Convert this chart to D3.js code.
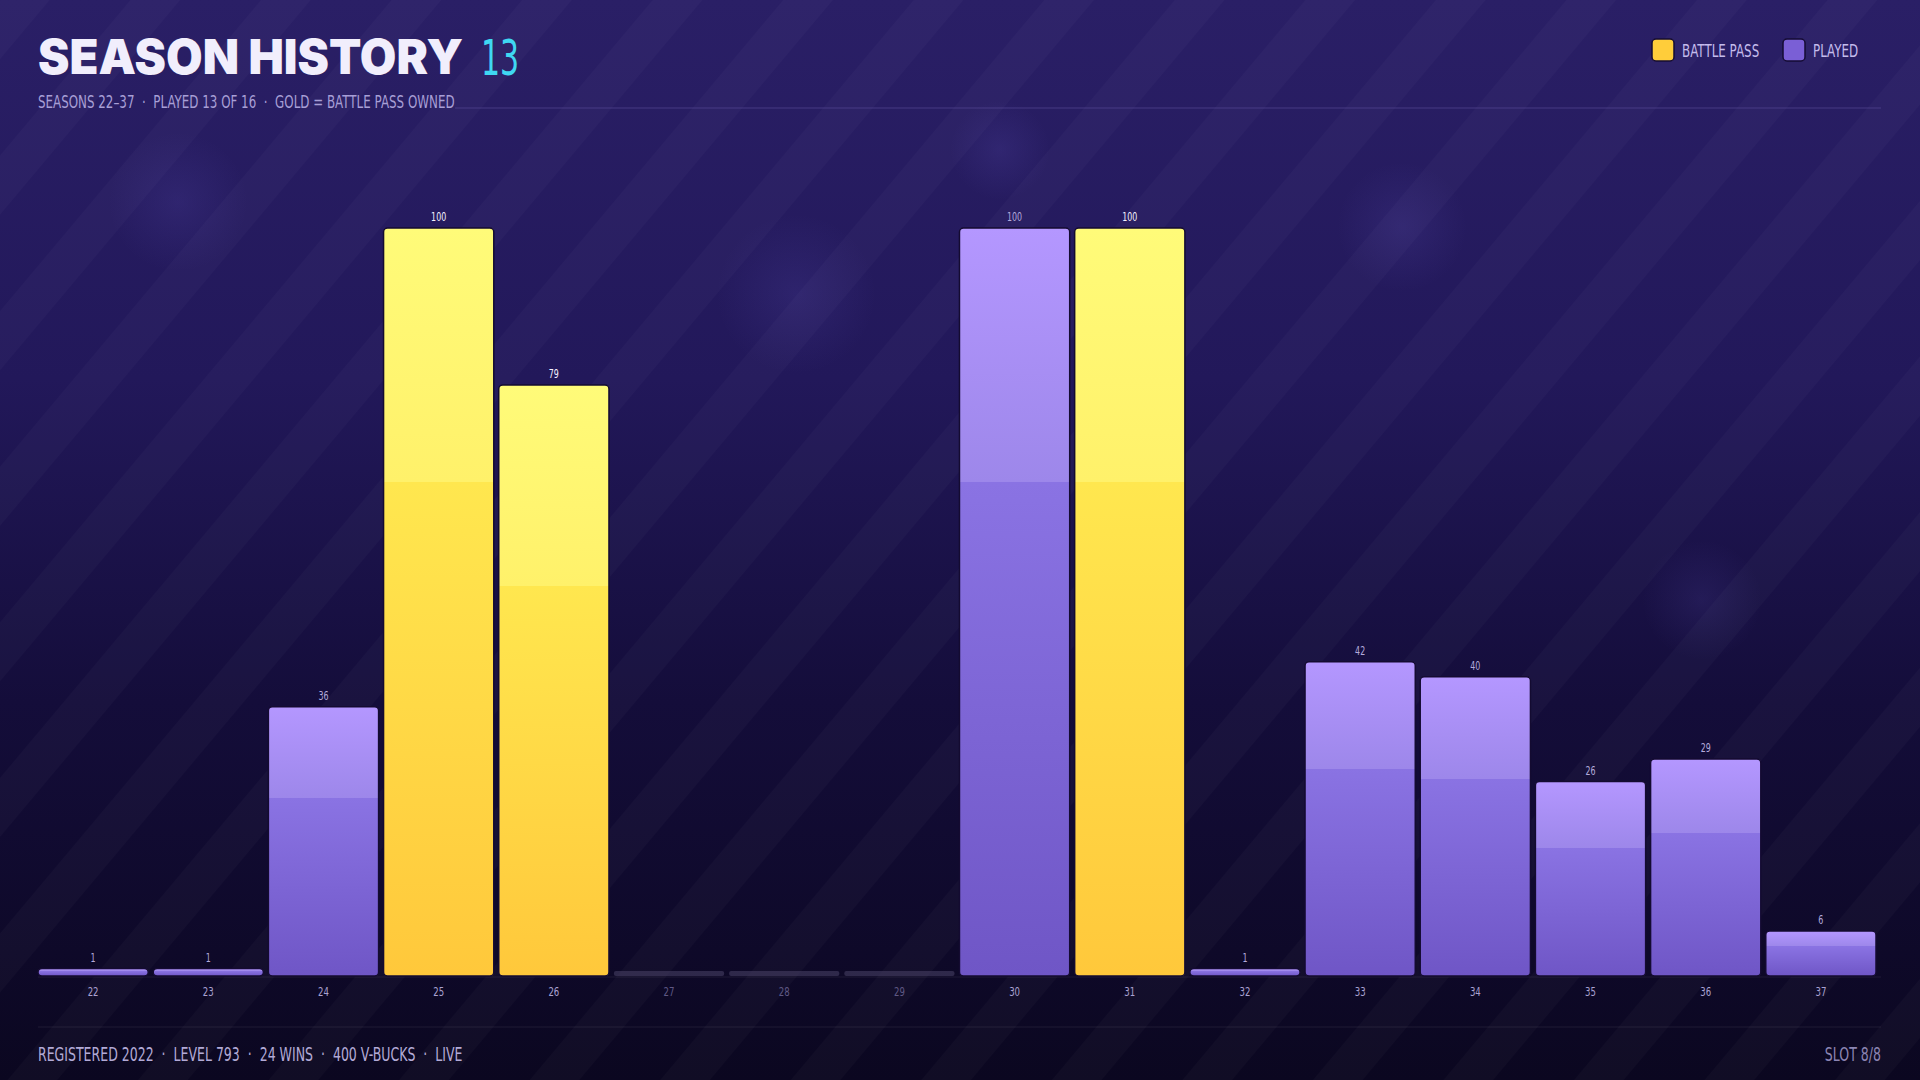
<!DOCTYPE html>
<html><head><meta charset="utf-8">
<script src="https://cdn.jsdelivr.net/npm/d3@7"></script>
<style>
html,body{margin:0;padding:0;background:#0c0821;}
svg{display:block;}
.cond{font-family:"DejaVu Sans",sans-serif;}
</style></head>
<body>
<svg id="chart" width="1920" height="1080"></svg>
<script>
const seasons = ["22","23","24","25","26","27","28","29","30","31","32","33","34","35","36","37"];
const levels  = [1,1,36,100,79,0,0,0,100,100,1,42,40,26,29,6];
const battlePass = [false,false,false,true,true,false,false,false,false,true,false,false,false,false,false,false];
const played = [true,true,true,true,true,false,false,false,true,true,true,true,true,true,true,true];
const titleText = "SEASON HISTORY";
const titleCount = "13";
const subtitleText = "SEASONS 22\u201337  \u00b7  PLAYED 13 OF 16  \u00b7  GOLD = BATTLE PASS OWNED";
const footerText = "REGISTERED 2022  \u00b7  LEVEL 793  \u00b7  24 WINS  \u00b7  400 V-BUCKS  \u00b7  LIVE";
const slotText = "SLOT 8/8";
const legendItems = [{label:"BATTLE PASS", key:"bp"},{label:"PLAYED", key:"pl"}];

const W = 1920, H = 1080;
const M = {left:38, right:1876, top:228, base:976};
const SX = 0.66; // horizontal condensing
const svg = d3.select("#chart");
const defs = svg.append("defs");

function cText(parent, x, y, txt, size, fill, anchor, sx){
  return parent.append("text").attr("class","cond")
    .attr("transform",`translate(${x},${y}) scale(${sx||SX},1)`)
    .attr("text-anchor",anchor||"start").attr("font-size",size).attr("fill",fill)
    .style("white-space","pre").text(txt);
}

const bg = defs.append("linearGradient").attr("id","bg").attr("x1",0).attr("y1",0).attr("x2",0).attr("y2",1);
[[0,"#2a1f66"],[0.35,"#22185a"],[0.65,"#140d3a"],[1,"#0b0720"]].forEach(s=>bg.append("stop").attr("offset",s[0]).attr("stop-color",s[1]));
const pat = defs.append("pattern").attr("id","stripes").attr("patternUnits","userSpaceOnUse")
  .attr("width",100).attr("height",100).attr("patternTransform","rotate(40)");
pat.append("rect").attr("x",0).attr("y",0).attr("width",38).attr("height",100).attr("fill","#ffffff").attr("opacity",0.024);
const bok = defs.append("radialGradient").attr("id","bokeh");
bok.append("stop").attr("offset",0).attr("stop-color","#8a7cff").attr("stop-opacity",0.10);
bok.append("stop").attr("offset",1).attr("stop-color","#8a7cff").attr("stop-opacity",0);

function barGrad(id, stops){
  const g = defs.append("linearGradient").attr("id",id).attr("x1",0).attr("y1",0).attr("x2",0).attr("y2",1);
  stops.forEach(s=>g.append("stop").attr("offset",s[0]).attr("stop-color",s[1]));
}
barGrad("gPl",[[0,"#b497ff"],[0.34,"#9d87ea"],[0.34,"#8a73e3"],[1,"#6f56c6"]]);
barGrad("gBp",[[0,"#fffb79"],[0.34,"#fff16a"],[0.34,"#ffe74f"],[1,"#ffc83b"]]);

svg.append("rect").attr("width",W).attr("height",H).attr("fill","url(#bg)");
svg.append("rect").attr("width",W).attr("height",H).attr("fill","url(#stripes)");
const bokehs = [[178,202,70],[796,294,80],[1402,227,65],[1702,600,60],[1000,150,50]];
svg.selectAll("circle.bk").data(bokehs).join("circle").attr("class","bk")
  .attr("cx",d=>d[0]).attr("cy",d=>d[1]).attr("r",d=>d[2]).attr("fill","url(#bokeh)");

const x = d3.scaleBand().domain(seasons).range([M.left, M.right]).paddingInner(0.043).paddingOuter(0);
const y = d3.scaleLinear().domain([0,100]).range([M.base, M.top]);

// title
const tg = svg.append("g");
tg.append("text").attr("x",38).attr("y",74).text(titleText)
  .attr("font-family","Inter, Lato, sans-serif").attr("font-weight",900).attr("font-size",48)
  .attr("fill","#f1eefc").attr("textLength",425).attr("lengthAdjust","spacingAndGlyphs");
cText(tg, 481, 75, titleCount, 50, "#3fd8f2", "start", 0.6);
cText(tg, 38, 108, subtitleText, 18, "#a79fd6");
svg.append("line").attr("x1",455).attr("x2",1881).attr("y1",108).attr("y2",108)
  .attr("stroke","#5a4f9a").attr("stroke-opacity",0.6).attr("stroke-width",1);

// legend
const legX = [1652,1783];
const lg = svg.append("g");
legendItems.forEach((it,i)=>{
  lg.append("rect").attr("x",legX[i]).attr("y",39).attr("width",22).attr("height",22).attr("rx",4)
    .attr("fill", it.key==="bp" ? "#ffcd3a" : "#7a5fd6").attr("stroke","#150c33").attr("stroke-width",1.5);
  cText(lg, legX[i]+30, 57, it.label, 18, "#c4bcec");
});

svg.append("line").attr("x1",M.left).attr("x2",1881).attr("y1",M.base+1).attr("y2",M.base+1)
  .attr("stroke","#ffffff").attr("stroke-opacity",0.07);

// bars
const data = seasons.map((s,i)=>({s, v:levels[i], bp:battlePass[i], played:played[i]}));
const bars = svg.append("g");
bars.selectAll("rect.bar").data(data).join("rect").attr("class","bar")
  .attr("x",d=>x(d.s)).attr("width",x.bandwidth())
  .attr("y",d=> d.played ? y(d.v) : M.base-5)
  .attr("height",d=> d.played ? M.base - y(d.v) : 5)
  .attr("rx",d=> d.played ? 4 : 2)
  .attr("fill",d=> !d.played ? "#4a4468" : (d.bp ? "url(#gBp)" : "url(#gPl)"))
  .attr("fill-opacity",d=> d.played ? 1 : 0.55)
  .attr("stroke",d=> d.played ? "#140b31" : "none").attr("stroke-width",1.5);

bars.selectAll("text.val").data(data.filter(d=>d.played)).join("text").attr("class","val cond")
  .attr("transform",d=>`translate(${x(d.s)+x.bandwidth()/2},${y(d.v)-7}) scale(${SX},1)`)
  .attr("text-anchor","middle").attr("font-size",12)
  .attr("fill",d=> d.bp ? "#f4f1ff" : "#b3abdc").text(d=>d.v);

// x axis
const axis = svg.append("g").attr("transform",`translate(0,${M.base})`)
  .call(d3.axisBottom(x).tickSize(0).tickPadding(0));
axis.select(".domain").remove();
axis.selectAll("text").attr("class","cond").attr("font-size",13).attr("font-family",null)
  .attr("y",null).attr("dy",null)
  .attr("transform",`translate(0,20) scale(${SX},1)`)
  .attr("fill",d=> played[seasons.indexOf(d)] ? "#aaa2d2" : "#5f5884");

// footer
svg.append("line").attr("x1",M.left).attr("x2",1881).attr("y1",1027).attr("y2",1027)
  .attr("stroke","#ffffff").attr("stroke-opacity",0.08);
cText(svg, 38, 1061, footerText, 19, "#b2aad6");
cText(svg, 1881, 1061, slotText, 19, "#8c85b4", "end");
</script>
</body></html>
